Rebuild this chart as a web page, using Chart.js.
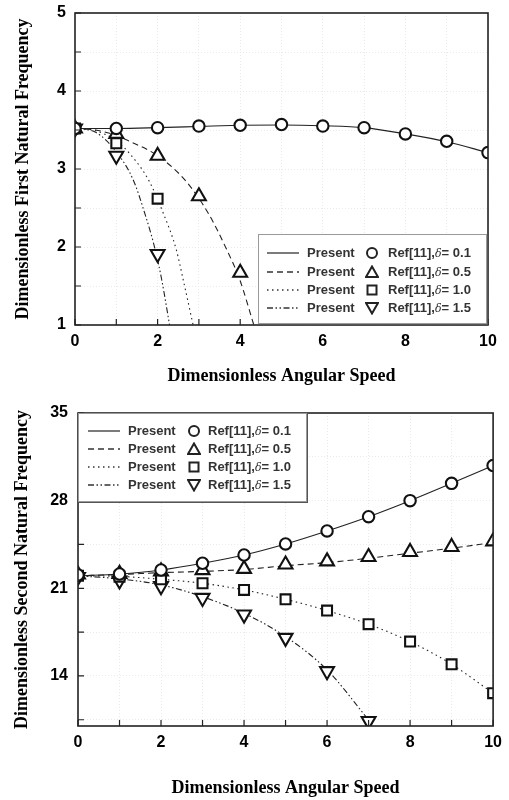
<!DOCTYPE html>
<html>
<head>
<meta charset="utf-8">
<script src="https://cdn.jsdelivr.net/npm/chart.js@4/dist/chart.umd.min.js"></script>
<style>
  body{margin:0;background:#fff;width:509px;height:800px;overflow:hidden}
  .panel{position:relative;width:509px;height:400px}
  .legend{position:absolute;background:#fff;border:1px solid #9a9a9a;box-shadow:1px 1px 0 #555;font:bold 13px "Liberation Sans",Arial,sans-serif;color:#333;box-sizing:border-box}
  .legend span,.legend svg{position:absolute}
  .legend i{font-weight:normal;font-family:"DejaVu Serif",serif;font-size:11px}
</style>
</head>
<body>
<div class="panel"><canvas id="chart_first" width="509" height="400"></canvas><div class="legend" id="leg_first" style="left:258px;top:234px;width:229px;height:90px"></div></div>
<div class="panel"><canvas id="chart_second" width="509" height="400"></canvas><div class="legend" id="leg_second" style="left:78px;top:13px;width:229px;height:89px"></div></div>
<script>
(function(){
  const el = id => document.getElementById(id);

  // angular speed
  const speeds = [0, 1, 2, 3, 4, 5, 6, 7, 8, 9, 10];

  // first natural frequency - Ref[11] markers
  const firstRef01 = [3.52, 3.52, 3.53, 3.55, 3.56, 3.57, 3.55, 3.53, 3.45, 3.355, 3.21];
  const firstRef05 = [3.52, 3.45, 3.17, 2.65, 1.67];
  const firstRef10 = [3.52, 3.33, 2.62];
  const firstRef15 = [3.52, 3.17, 1.91];
  // first natural frequency - present curves
  const firstPr01 = [3.52, 3.52, 3.53, 3.545, 3.56, 3.565, 3.555, 3.53, 3.45, 3.35, 3.21];
  const firstPr05X = [0, 0.5, 1, 1.3, 2, 2.66, 3.23, 3.67, 3.99, 4.33];
  const firstPr05 = [3.52, 3.50, 3.43, 3.36, 3.17, 2.86, 2.43, 1.97, 1.58, 1.0];
  const firstPr10X = [0, 0.5, 1, 1.4, 1.78, 2.14, 2.45, 2.62, 2.86];
  const firstPr10 = [3.52, 3.49, 3.36, 3.15, 2.86, 2.43, 1.97, 1.58, 1.0];
  const firstPr15X = [0, 0.5, 1, 1.41, 1.69, 1.94, 2.10, 2.29];
  const firstPr15 = [3.52, 3.47, 3.22, 2.86, 2.43, 1.97, 1.58, 1.0];

  // second natural frequency - Ref[11] markers
  const secondRef01 = [22.06, 22.14, 22.46, 23.0, 23.66, 24.54, 25.58, 26.72, 28.0, 29.38, 30.8];
  const secondRef05 = [22.1, 22.15, 22.35, 22.45, 22.55, 22.9, 23.15, 23.5, 23.9, 24.3, 24.75];
  const secondRef10 = [22.0, 21.93, 21.72, 21.4, 20.87, 20.12, 19.22, 18.13, 16.74, 14.93, 12.62];
  const secondRef15 = [21.9, 21.62, 21.17, 20.23, 18.9, 17.04, 14.38, 10.4];
  // second natural frequency - present curves
  const secondPr01 = [22.0, 22.14, 22.46, 23.0, 23.66, 24.54, 25.58, 26.72, 28.0, 29.38, 30.8];
  const secondPr05 = [22.0, 22.1, 22.25, 22.35, 22.5, 22.8, 23.05, 23.4, 23.8, 24.2, 24.65];
  const secondPr10 = [22.0, 21.95, 21.72, 21.4, 20.87, 20.12, 19.22, 18.13, 16.74, 14.93, 12.62];
  const secondPr15 = [22.0, 21.75, 21.27, 20.33, 19.0, 17.14, 14.48, 10.49];
  const secondYTicks = [10.5, 14, 17.5, 21, 24.5, 28, 31.5, 35];

  const deltas = ['0.1', '0.5', '1.0', '1.5'];
  const dashes = [[], [6, 4], [1.5, 3.5], [6, 2.5, 1.5, 2.5, 1.5, 2.5]];
  const marks = [
    { style: 'circle', r: 5.7, rot: 0 },
    { style: 'triangle', r: 8, rot: 0 },
    { style: 'rect', r: 7, rot: 0 },
    { style: 'triangle', r: 8, rot: 180 }
  ];

  const pts = (xs, ys) => ys.map((y, i) => ({ x: xs[i], y: y }));
  function lineDs(xs, ys, k){
    return { data: pts(xs, ys), showLine: true, borderColor: '#222', borderWidth: 1.1, borderDash: dashes[k],
      pointRadius: 0, fill: false, cubicInterpolationMode: 'monotone', clip: 0, order: 2 };
  }
  function markDs(xs, ys, k){
    const m = marks[k];
    return { data: pts(xs, ys), showLine: false, pointStyle: m.style, pointRadius: m.r, pointRotation: m.rot,
      pointBorderColor: '#111', pointBackgroundColor: '#fff', pointBorderWidth: 2.1, clip: 0, order: 1 };
  }

  // frame + inward tick marks
  const framePlugin = {
    id: 'frame',
    afterDraw(chart){
      const { ctx, chartArea: a, scales: { x, y } } = chart;
      ctx.save();
      ctx.strokeStyle = '#222';
      ctx.lineWidth = 1.6;
      ctx.strokeRect(a.left, a.top, a.right - a.left, a.bottom - a.top);
      ctx.lineWidth = 1.2;
      ctx.beginPath();
      x.ticks.forEach(t => { const p = x.getPixelForValue(t.value); ctx.moveTo(p, a.bottom); ctx.lineTo(p, a.bottom - 6); });
      y.ticks.forEach(t => { const p = y.getPixelForValue(t.value); ctx.moveTo(a.left, p); ctx.lineTo(a.left + 6, p); });
      ctx.stroke();
      ctx.restore();
    }
  };

  const tickFont = { family: '"Liberation Sans", Arial, sans-serif', weight: 'bold', size: 16 };
  const titleFont = { family: '"Liberation Serif", "Times New Roman", serif', weight: 'bold', size: 18 };
  const gridOpts = { color: '#eaeaea', drawTicks: false, borderDash: [1, 2] };
  const borderOpts = { display: false, dash: [1, 2] };

  function xScale(height, titlePad){
    return {
      type: 'linear', min: 0, max: 10,
      ticks: { stepSize: 1, autoSkip: false, maxRotation: 0, padding: 7, color: '#000', font: tickFont,
        callback: v => (v % 2 === 0 ? v : '') },
      grid: gridOpts, border: borderOpts,
      title: { display: true, text: 'Dimensionless Angular Speed', color: '#000', font: titleFont, padding: { top: 0, bottom: titlePad } },
      afterFit: s => { s.height = height; }
    };
  }

  function makeChart(id, datasets, yOpts, pad, xHeight, xTitlePad){
    return new Chart(el(id), {
      type: 'scatter',
      data: { datasets: datasets },
      options: {
        responsive: false, animation: false, devicePixelRatio: 1,
        layout: { padding: pad },
        plugins: { legend: { display: false }, tooltip: { enabled: false } },
        scales: { x: xScale(xHeight, xTitlePad), y: yOpts }
      },
      plugins: [framePlugin]
    });
  }

  // Chart 1: first natural frequency
  const firstDs = [
    markDs(speeds, firstRef01, 0), markDs(speeds, firstRef05, 1), markDs(speeds, firstRef10, 2), markDs(speeds, firstRef15, 3),
    lineDs(speeds, firstPr01, 0), lineDs(firstPr05X, firstPr05, 1), lineDs(firstPr10X, firstPr10, 2), lineDs(firstPr15X, firstPr15, 3)
  ];
  makeChart('chart_first', firstDs, {
    type: 'linear', min: 1, max: 5,
    ticks: { stepSize: 0.5, autoSkip: false, padding: 9, color: '#000', font: tickFont,
      callback: v => (Number.isInteger(v) ? v : '') },
    grid: gridOpts, border: borderOpts,
    title: { display: true, text: 'Dimensionless First Natural Frequency', color: '#000', font: titleFont, padding: { top: 13, bottom: 0 } },
    afterFit: s => { s.width = 75; s.paddingTop = 0; s.paddingBottom = 0; }
  }, { left: 0, right: 21, top: 13, bottom: 0 }, 75, 13);

  // Chart 2: second natural frequency
  const secondDs = [
    markDs(speeds, secondRef01, 0), markDs(speeds, secondRef05, 1), markDs(speeds, secondRef10, 2), markDs(speeds, secondRef15, 3),
    lineDs(speeds, secondPr01, 0), lineDs(speeds, secondPr05, 1), lineDs(speeds, secondPr10, 2), lineDs(speeds, secondPr15, 3)
  ];
  makeChart('chart_second', secondDs, {
    type: 'linear', min: 10, max: 35,
    afterBuildTicks: s => { s.ticks = secondYTicks.map(v => ({ value: v })); },
    ticks: { autoSkip: false, padding: 10, color: '#000', font: tickFont,
      callback: v => (v % 7 === 0 ? v : '') },
    grid: gridOpts, border: borderOpts,
    title: { display: true, text: 'Dimensionless Second Natural Frequency', color: '#000', font: titleFont, padding: { top: 12, bottom: 0 } },
    afterFit: s => { s.width = 78; s.paddingTop = 0; s.paddingBottom = 0; }
  }, { left: 0, right: 13, top: 13, bottom: 0 }, 74, 1);

  // legends (html)
  const markerSvg = [
    '<circle cx="7" cy="7" r="5"/>',
    '<polygon points="7,1.5 13,12 1,12"/>',
    '<rect x="2.5" y="2.5" width="9" height="9"/>',
    '<polygon points="1,2 13,2 7,12.5"/>'
  ];
  function buildLegend(id, rowsY, cols){
    const box = el(id);
    let html = '';
    rowsY.forEach((cy, k) => {
      const dash = dashes[k].length ? ' stroke-dasharray="' + dashes[k].join(' ') + '"' : '';
      html += '<svg width="32" height="6" style="left:' + cols[0] + 'px;top:' + (cy - 3) + 'px"><line x1="0" y1="3" x2="32" y2="3" stroke="#333" stroke-width="1.3"' + dash + '/></svg>';
      html += '<span style="left:' + cols[1] + 'px;top:' + (cy - 8) + 'px">Present</span>';
      html += '<svg width="14" height="14" style="left:' + (cols[2] - 7) + 'px;top:' + (cy - 7) + 'px" fill="#fff" stroke="#222" stroke-width="2">' + markerSvg[k] + '</svg>';
      html += '<span style="left:' + cols[3] + 'px;top:' + (cy - 8) + 'px">Ref[11],<i>δ</i>= ' + deltas[k] + '</span>';
    });
    box.innerHTML = html;
  }
  buildLegend('leg_first', [18, 37, 55, 73], [8, 48, 113, 129]);
  buildLegend('leg_second', [17, 35, 53, 71], [9, 49, 115, 129]);
})();
</script>
</body>
</html>
